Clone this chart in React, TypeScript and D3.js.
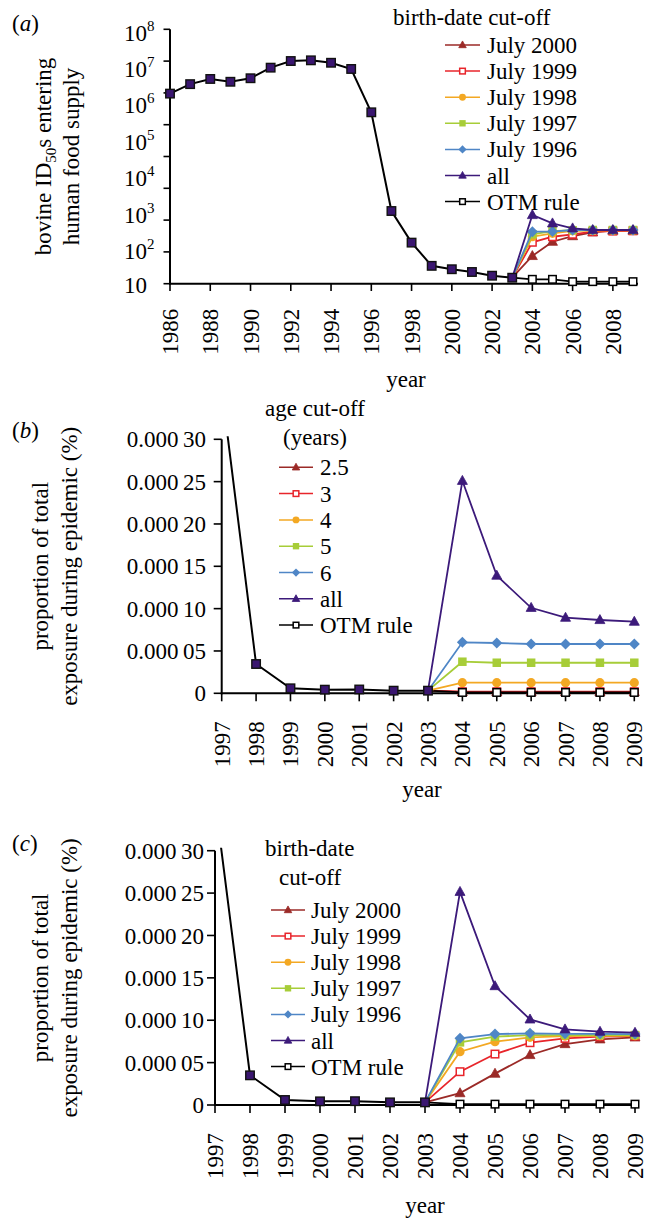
import React from "react";
import * as d3 from "d3";

const FONT = "'Liberation Serif', 'Times New Roman', Times, serif";

// ---------- shared categories ----------
const lateYears = [2004, 2005, 2006, 2007, 2008, 2009];

// ---------- panel (a) ----------
const yearsCommonA = [1986, 1987, 1988, 1989, 1990, 1991, 1992, 1993, 1994, 1995, 1996, 1997, 1998, 1999, 2000, 2001, 2002, 2003];
const commonA = [1.7e6, 3.1e6, 4.3e6, 3.6e6, 4.5e6, 8.8e6, 1.34e7, 1.4e7, 1.2e7, 8.1e6, 5.2e5, 1.0e3, 135, 31, 25, 21, 16.6, 14.6];
const july2000A = [58, 143, 204, 259, 287, 287];
const july1999A = [138, 196, 229, 270, 280, 285];
const july1998A = [196, 243, 285, 290, 292, 292];
const july1997A = [229, 280, 296, 300, 300, 300];
const july1996A = [270, 272, 300, 300, 300, 300];
const allA = [776, 459, 335, 300, 300, 300];
const otmA = [13.2, 13.2, 11.4, 11.4, 11.4, 11.4];
const xTicksA = [1986, 1988, 1990, 1992, 1994, 1996, 1998, 2000, 2002, 2004, 2006, 2008];
const yTickValuesA = [1, 10, 100, 1e3, 1e4, 1e5, 1e6, 1e7, 1e8];
const yLabelExpA = [8, 7, 6, 5, 4, 3, 2, 1];

// ---------- panel (b) ----------
const yearsCommonB = [1997, 1998, 1999, 2000, 2001, 2002, 2003];
const commonB = [3.6e-4, 3.46e-5, 5.9e-6, 4.3e-6, 4.5e-6, 3.1e-6, 3.1e-6];
const age25B = [1.6e-6, 1.6e-6, 1.6e-6, 1.6e-6, 1.6e-6, 1.6e-6];
const age3B = [1.9e-6, 1.9e-6, 1.9e-6, 1.9e-6, 1.9e-6, 1.9e-6];
const age4B = [1.25e-5, 1.25e-5, 1.25e-5, 1.25e-5, 1.25e-5, 1.25e-5];
const age5B = [3.73e-5, 3.61e-5, 3.61e-5, 3.61e-5, 3.61e-5, 3.61e-5];
const age6B = [6.02e-5, 5.94e-5, 5.82e-5, 5.82e-5, 5.82e-5, 5.82e-5];
const allB = [2.51e-4, 1.39e-4, 1.01e-4, 8.93e-5, 8.66e-5, 8.46e-5];
const otmB = [1.0e-6, 1.0e-6, 1.0e-6, 1.0e-6, 1.0e-6, 1.0e-6];

// ---------- panel (c) ----------
const commonC = [3.6e-4, 3.5e-5, 5.9e-6, 4.3e-6, 4.5e-6, 3.1e-6, 3.1e-6];
const july2000C = [1.4e-5, 3.7e-5, 5.9e-5, 7.19e-5, 7.75e-5, 7.98e-5];
const july1999C = [3.93e-5, 6.01e-5, 7.35e-5, 7.86e-5, 8.06e-5, 8.14e-5];
const july1998C = [6.29e-5, 7.47e-5, 7.98e-5, 8.13e-5, 8.17e-5, 8.17e-5];
const july1997C = [7.39e-5, 8.06e-5, 8.25e-5, 8.25e-5, 8.25e-5, 8.25e-5];
const july1996C = [7.86e-5, 8.37e-5, 8.45e-5, 8.4e-5, 8.4e-5, 8.37e-5];
const allC = [2.515e-4, 1.403e-4, 1.01e-4, 8.93e-5, 8.65e-5, 8.53e-5];
const otmC = [1.0e-6, 1.0e-6, 1.0e-6, 1.0e-6, 1.0e-6, 1.0e-6];

const yearsBC = [1997, 1998, 1999, 2000, 2001, 2002, 2003, 2004, 2005, 2006, 2007, 2008, 2009];
const yTicksBC = [0, 0.00005, 0.0001, 0.00015, 0.0002, 0.00025, 0.0003];
const yTickLabelsBC = ["0", "0.000\u200905", "0.000\u200910", "0.000\u200915", "0.000\u200920", "0.000\u200925", "0.000\u200930"];

const birthLabels = ["July 2000", "July 1999", "July 1998", "July 1997", "July 1996", "all", "OTM rule"];
const ageLabels = ["2.5", "3", "4", "5", "6", "all", "OTM rule"];

// styles per series (order as legend)
const COLORS = ["#9b2a27", "#e8252b", "#f3a823", "#a7cd38", "#4f86c6", "#3c1a7a", "#000000"];
const SHAPES = ["tri", "sqOpen", "circle", "sq", "diamond", "tri", "sqOpenK"];

function Marker({ shape, x, y, color, s = 1 }: { shape: string; x: number; y: number; color: string; s?: number }) {
  if (shape === "tri") {
    const w = 10 * s;
    const h = 9 * s;
    return <path d={`M${x},${y - h * 0.6}L${x + w / 2},${y + h * 0.4}L${x - w / 2},${y + h * 0.4}Z`} fill={color} stroke={color} strokeWidth={0.8} />;
  }
  if (shape === "sqOpen" || shape === "sqOpenK") {
    const w = 7.5 * s;
    return <rect x={x - w / 2} y={y - w / 2} width={w} height={w} fill="#fff" stroke={color} strokeWidth={1.5} />;
  }
  if (shape === "circle") return <circle cx={x} cy={y} r={4.6 * s} fill={color} />;
  if (shape === "sq") {
    const w = 8.5 * s;
    return <rect x={x - w / 2} y={y - w / 2} width={w} height={w} fill={color} />;
  }
  if (shape === "diamond") {
    const r = 5.5 * s;
    return <path d={`M${x},${y - r}L${x + r},${y}L${x},${y + r}L${x - r},${y}Z`} fill={color} />;
  }
  if (shape === "common") {
    const w = 8.5 * s;
    return <rect x={x - w / 2} y={y - w / 2} width={w} height={w} fill="#3a1670" stroke="#111" strokeWidth={1.4} />;
  }
  return null;
}

function Legend({ lineX0, lineX1, textX, y0, step, labels }: { lineX0: number; lineX1: number; textX: number; y0: number; step: number; labels: string[] }) {
  return (
    <g>
      {labels.map((lab, i) => {
        const y = y0 + i * step;
        const mx = (lineX0 + lineX1) / 2;
        return (
          <g key={lab}>
            <line x1={lineX0} x2={lineX1} y1={y} y2={y} stroke={COLORS[i]} strokeWidth={1.5} />
            <Marker shape={SHAPES[i]} x={mx} y={y} color={COLORS[i]} s={0.75} />
            <text x={textX} y={y} dy="0.35em" fontSize={23} fontFamily={FONT}>{lab}</text>
          </g>
        );
      })}
    </g>
  );
}

function SeriesLines({ xs, ys, startYear, startVal, series, drawOrder }: any) {
  const line = d3.line<[number, number]>().x((d) => xs(d[0])).y((d) => ys(d[1]));
  return (
    <g>
      {drawOrder.map((i: number) => {
        const s: number[] = series[i];
        const pts: [number, number][] = [[startYear, startVal], ...lateYears.map((yr, k) => [yr, s[k]] as [number, number])];
        return (
          <g key={i}>
            <path d={line(pts) || ""} fill="none" stroke={COLORS[i]} strokeWidth={1.8} />
            {lateYears.map((yr, k) => (
              <Marker key={yr} shape={SHAPES[i]} x={xs(yr)} y={ys(s[k])} color={COLORS[i]} />
            ))}
          </g>
        );
      })}
    </g>
  );
}

function PanelA() {
  const x = d3.scaleLinear().domain([1986, 2009]).range([170, 633]);
  const yTick = d3.scaleLog().domain([1, 1e8]).range([283.7, 29.3]);
  const y = d3.scaleLog().domain([10, 1e8]).range([283.7, 29.3]);
  const line = d3.line<number>().x((_, i) => x(yearsCommonA[i])).y((d) => y(d));
  const series = [july2000A, july1999A, july1998A, july1997A, july1996A, allA, otmA];
  return (
    <g>
      <text x={12} y={31} fontSize={23} fontFamily={FONT}>(<tspan fontStyle="italic">a</tspan>)</text>
      <text transform={`translate(51,${(29.3 + 283.7) / 2}) rotate(-90)`} textAnchor="middle" fontSize={23} fontFamily={FONT}>
        bovine ID<tspan fontSize={15} dy={5}>50</tspan><tspan dy={-5}>s entering</tspan>
      </text>
      <text transform={`translate(79,${(29.3 + 283.7) / 2}) rotate(-90)`} textAnchor="middle" fontSize={23} fontFamily={FONT}>
        human food supply
      </text>
      <line x1={170} x2={170} y1={29.3} y2={284.7} stroke="#000" strokeWidth={2} />
      <line x1={169} x2={638} y1={283.7} y2={283.7} stroke="#000" strokeWidth={2} />
      {yTickValuesA.map((v) => (
        <line key={v} x1={163.5} x2={170} y1={yTick(v)} y2={yTick(v)} stroke="#000" strokeWidth={1.6} />
      ))}
      {yLabelExpA.map((e) => (
        <text key={e} x={124} y={y(Math.pow(10, e))} dy={e === 1 ? "0.4em" : "0.5em"} fontSize={23} fontFamily={FONT}>
          10{e > 1 ? <tspan fontSize={15} dy={-10}>{e}</tspan> : null}
        </text>
      ))}
      {xTicksA.map((t) => (
        <g key={t}>
          <line x1={x(t)} x2={x(t)} y1={283.7} y2={291} stroke="#000" strokeWidth={1.6} />
          <text transform={`translate(${x(t) + 8},${283.7 + 25}) rotate(-90)`} textAnchor="end" fontSize={23} fontFamily={FONT}>{t}</text>
        </g>
      ))}
      <text x={406} y={387} textAnchor="middle" fontSize={23} fontFamily={FONT}>year</text>
      <SeriesLines xs={x} ys={y} startYear={2003} startVal={commonA[commonA.length - 1]} series={series} drawOrder={[6, 0, 1, 2, 3, 4, 5]} />
      <path d={line(commonA) || ""} fill="none" stroke="#000" strokeWidth={2} />
      {commonA.map((v, i) => (
        <Marker key={i} shape="common" x={x(yearsCommonA[i])} y={y(v)} color="#3a1670" />
      ))}
      <text x={393} y={25} fontSize={23} fontFamily={FONT}>birth-date cut-off</text>
      <Legend lineX0={445} lineX1={480} textX={487} y0={45} step={26.1} labels={birthLabels} />
    </g>
  );
}

function PanelBC({ which }: { which: "b" | "c" }) {
  const isB = which === "b";
  const axX = isB ? 221.7 : 215;
  const x = d3.scaleLinear().domain([1997, 2009]).range(isB ? [221.7, 634.3] : [215, 635]);
  const yBot = isB ? 693.3 : 1105;
  const yTop = isB ? 439.3 : 850.7;
  const y = d3.scaleLinear().domain([0, 0.0003]).range([yBot, yTop]);
  const common = isB ? commonB : commonC;
  const series = isB
    ? [age25B, age3B, age4B, age5B, age6B, allB, otmB]
    : [july2000C, july1999C, july1998C, july1997C, july1996C, allC, otmC];
  const line = d3.line<number>().x((_, i) => x(yearsCommonB[i])).y((d) => y(d));
  const clipId = `clip-${which}`;
  const midY = (yTop + yBot) / 2;
  const labEnd = isB ? 206 : 204;
  return (
    <g>
      <defs>
        <clipPath id={clipId}>
          <rect x={axX} y={yTop - 3} width={440} height={yBot - yTop + 20} />
        </clipPath>
      </defs>
      <text x={12} y={isB ? 438 : 851} fontSize={23} fontFamily={FONT}>(<tspan fontStyle="italic">{which}</tspan>)</text>
      <text transform={`translate(48,${midY}) rotate(-90)`} textAnchor="middle" fontSize={23} fontFamily={FONT}>proportion of total</text>
      <text transform={`translate(77,${midY}) rotate(-90)`} textAnchor="middle" fontSize={23} fontFamily={FONT}>exposure during epidemic (%)</text>
      <line x1={axX} x2={axX} y1={yTop} y2={yBot + 1} stroke="#000" strokeWidth={2} />
      <line x1={axX - 1} x2={x(2009) + 4} y1={yBot} y2={yBot} stroke="#000" strokeWidth={2} />
      {yTicksBC.map((v, i) => (
        <g key={v}>
          <line x1={axX - 8} x2={axX} y1={y(v)} y2={y(v)} stroke="#000" strokeWidth={1.6} />
          <text x={labEnd} y={y(v)} dy="0.35em" textAnchor="end" fontSize={23} fontFamily={FONT}>{yTickLabelsBC[i]}</text>
        </g>
      ))}
      {yearsBC.map((t) => (
        <g key={t}>
          <line x1={x(t)} x2={x(t)} y1={yBot} y2={yBot + 8} stroke="#000" strokeWidth={1.6} />
          <text transform={`translate(${x(t) + 8},${yBot + 28}) rotate(-90)`} textAnchor="end" fontSize={23} fontFamily={FONT}>{t}</text>
        </g>
      ))}
      <text x={isB ? 422 : 425} y={isB ? 797 : 1213} textAnchor="middle" fontSize={23} fontFamily={FONT}>year</text>
      <g clipPath={`url(#${clipId})`}>
        <SeriesLines xs={x} ys={y} startYear={2003} startVal={common[common.length - 1]} series={series}
          drawOrder={isB ? [0, 1, 6, 2, 3, 4, 5] : [6, 0, 1, 2, 3, 4, 5]} />
        <path d={line(common) || ""} fill="none" stroke="#000" strokeWidth={2} />
        {common.map((v, i) => (i === 0 ? null :
          <Marker key={i} shape="common" x={x(yearsCommonB[i])} y={y(v)} color="#3a1670" />
        ))}
      </g>
      {isB ? (
        <g>
          <text x={265} y={416} fontSize={23} fontFamily={FONT}>age cut-off</text>
          <text x={283} y={445} fontSize={23} fontFamily={FONT}>(years)</text>
          <Legend lineX0={279} lineX1={313} textX={320} y0={467.3} step={26.3} labels={ageLabels} />
        </g>
      ) : (
        <g>
          <text x={265} y={856} fontSize={23} fontFamily={FONT}>birth-date</text>
          <text x={279} y={885} fontSize={23} fontFamily={FONT}>cut-off</text>
          <Legend lineX0={271} lineX1={305} textX={311} y0={910} step={26.1} labels={birthLabels} />
        </g>
      )}
    </g>
  );
}

export default function App() {
  return (
    <svg width={657} height={1219} style={{ position: "absolute", left: 0, top: 0, background: "#fff" }}>
      <rect width={657} height={1219} fill="#fff" />
      <PanelA />
      <PanelBC which="b" />
      <PanelBC which="c" />
    </svg>
  );
}
